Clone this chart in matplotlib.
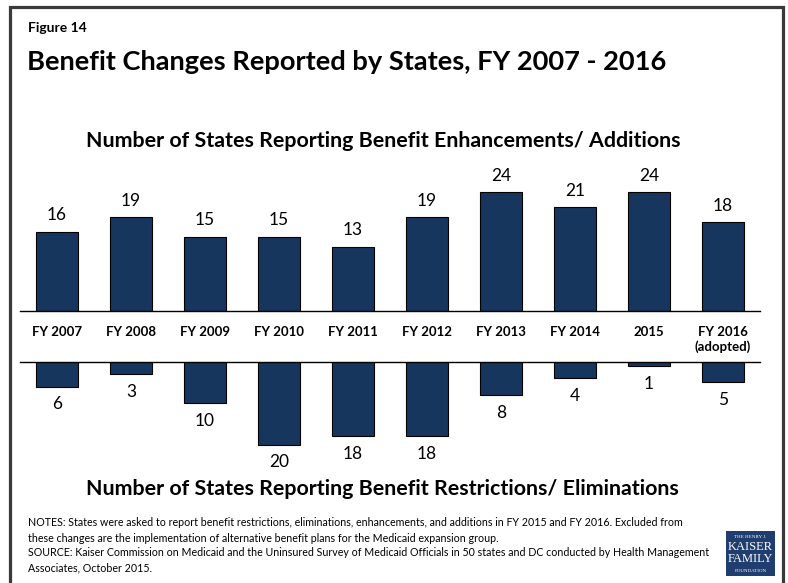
import matplotlib.pyplot as plt
from matplotlib.patches import Rectangle

# ==========================================================
# Data
# ==========================================================

years = ["FY 2007", "FY 2008", "FY 2009", "FY 2010", "FY 2011",
         "FY 2012", "FY 2013", "FY 2014", "2015", "FY 2016\n(adopted)"]
enhancements = [16, 19, 15, 15, 13, 19, 24, 21, 24, 18]
restrictions = [6, 3, 10, 20, 18, 18, 8, 4, 1, 5]

BAR_COLOR = "#17365D"
W, H = 788, 583

plt.rcParams["font.family"] = ["Lato", "DejaVu Sans"]

fig = plt.figure(figsize=(W / 100, H / 100), dpi=100)


def px_box(x0, y_top, x1, y_bot):
    # pixel box (from top-left) -> figure fraction rect
    return [x0 / W, 1 - y_bot / H, (x1 - x0) / W, (y_bot - y_top) / H]


# ==========================================================
# Top panel: enhancements / additions
# ==========================================================

ax1 = fig.add_axes(px_box(20, 160, 760, 310.7))
x = range(len(years))
bars1 = ax1.bar(x, enhancements, width=0.57, color=BAR_COLOR,
                edgecolor="black", linewidth=0.8)
ax1.set_xlim(-0.5, len(years) - 0.5)
ax1.set_ylim(0, 150.7 / 4.93)
for b, v in zip(bars1, enhancements):
    ax1.annotate(str(v), (b.get_x() + b.get_width() / 2, v),
                 xytext=(0, 6), textcoords="offset points",
                 ha="center", va="bottom", fontsize=12.5)
ax1.set_xticks(list(x))
ax1.set_xticklabels(years, fontsize=9.5, fontweight="bold")
ax1.tick_params(axis="x", length=0, pad=11)
ax1.set_yticks([])
for s in ["top", "left", "right"]:
    ax1.spines[s].set_visible(False)
ax1.spines["bottom"].set_linewidth(1.0)

# ==========================================================
# Bottom panel: restrictions / eliminations
# ==========================================================

ax2 = fig.add_axes(px_box(20, 361.7, 760, 470))
bars2 = ax2.bar(x, [-v for v in restrictions], width=0.57, color=BAR_COLOR,
                edgecolor="black", linewidth=0.8)
ax2.set_xlim(-0.5, len(years) - 0.5)
ax2.set_ylim(-108.3 / 4.15, 0)
for b, v in zip(bars2, restrictions):
    ax2.annotate(str(v), (b.get_x() + b.get_width() / 2, -v),
                 xytext=(0, -7), textcoords="offset points",
                 ha="center", va="top", fontsize=12.5)
ax2.set_xticks([])
ax2.set_yticks([])
for s in ["bottom", "left", "right"]:
    ax2.spines[s].set_visible(False)
ax2.spines["top"].set_linewidth(1.0)

# ==========================================================
# Titles and notes
# ==========================================================

fig.text(28 / W, 1 - 28 / H, "Figure 14", fontsize=10, fontweight="bold",
         va="center", ha="left")
fig.text(27 / W, 1 - 62 / H, "Benefit Changes Reported by States, FY 2007 - 2016",
         fontsize=19.6, fontweight="bold", va="center", ha="left")
fig.text(383 / W, 1 - 141 / H,
         "Number of States Reporting Benefit Enhancements/ Additions",
         fontsize=15.4, fontweight="bold", va="center", ha="center")
fig.text(382 / W, 1 - 489 / H,
         "Number of States Reporting Benefit Restrictions/ Eliminations",
         fontsize=15.4, fontweight="bold", va="center", ha="center")

notes = [
    "NOTES: States were asked to report benefit restrictions, eliminations, enhancements, "
    "and additions in FY 2015 and FY 2016. Excluded from",
    "these changes are the implementation of alternative benefit plans for the Medicaid expansion group.",
    "SOURCE: Kaiser Commission on Medicaid and the Uninsured Survey of Medicaid Officials in 50 states "
    "and DC conducted by Health Management",
    "Associates, October 2015.",
]
for i, line in enumerate(notes):
    fig.text(28 / W, 1 - (523 + 15 * i) / H, line, fontsize=7.7,
             va="center", ha="left")

# Kaiser logo block
logo = Rectangle((726 / W, 1 - 576 / H), 49 / W, 45 / H,
                 transform=fig.transFigure, facecolor="#1F3D6E",
                 edgecolor="none")
fig.patches.append(logo)
logo_lines = [("THE HENRY J.", 3.6, 537), ("KAISER", 9.0, 547.5),
              ("FAMILY", 9.0, 559.5), ("FOUNDATION", 3.6, 571)]
for txt, fs, yy in logo_lines:
    fig.text(750.5 / W, 1 - yy / H, txt, fontsize=fs, color="white",
             family="Liberation Serif", ha="center", va="center")

# Frame around figure
frame = Rectangle((9.5 / W, -0.05), 773 / W, 1.05 - 6.5 / H,
                  transform=fig.transFigure, fill=False,
                  edgecolor="#3a3a3a", linewidth=2.3)
fig.patches.append(frame)

fig.savefig("out.png", dpi=100)
